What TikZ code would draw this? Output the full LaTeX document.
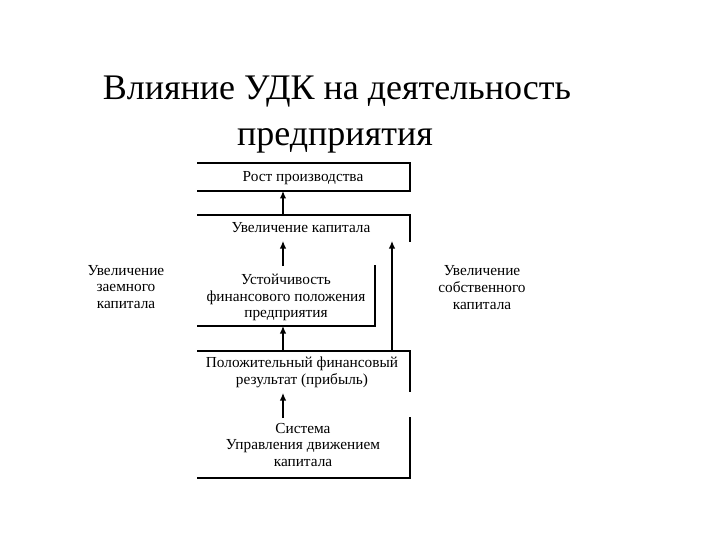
\documentclass[tikz,border=0pt]{standalone}
\usepackage{fontspec}
\setmainfont{Liberation Serif}
\usetikzlibrary{arrows.meta}

\begin{document}
\begin{tikzpicture}[x=1pt,y=-1pt,line width=1.2pt,
		arr/.style={-{Latex[length=7.5pt,width=6.5pt]}},
		txt/.style={font=\fontsize{15.3}{16.8}\selectfont,align=center,inner sep=0pt}]
	\useasboundingbox (0,0) rectangle (720,540);
	
	\coordinate (P1) at (197,163);
	\coordinate (Q1) at (410,163);
	\coordinate (R1) at (410,191);
	\coordinate (S1) at (197,191);
	\coordinate (B1) at (283,191);
	
	\coordinate (P2) at (197,215);
	\coordinate (Q2) at (410,215);
	\coordinate (R2) at (410,242);
	\coordinate (T2) at (283,215);
	\coordinate (B2) at (283,241);
	\coordinate (C2) at (392,241);
	
	\coordinate (Q3) at (375,265);
	\coordinate (R3) at (375,326);
	\coordinate (S3) at (197,326);
	\coordinate (T3) at (283,266);
	\coordinate (B3) at (283,326);
	
	\coordinate (P4) at (197,351);
	\coordinate (Q4) at (410,351);
	\coordinate (R4) at (410,392);
	\coordinate (T4) at (283,351);
	\coordinate (C4) at (392,351);
	\coordinate (B4) at (283,393);
	
	\coordinate (Q5) at (410,417);
	\coordinate (R5) at (410,478);
	\coordinate (S5) at (197,478);
	\coordinate (T5) at (283,418);
	
	\draw (P1) -- (Q1) -- (R1) -- (S1);
	\draw (P2) -- (Q2) -- (R2);
	\draw (Q3) -- (R3) -- (S3);
	\draw (P4) -- (Q4) -- (R4);
	\draw (Q5) -- (R5) -- (S5);
	
	\draw[arr] (T2) -- (B1);
	\draw[arr] (T3) -- (B2);
	\draw[arr] (T4) -- (B3);
	\draw[arr] (T5) -- (B4);
	\draw[arr] (C4) -- (C2);
	
	\node (title1) at (337,100) [anchor=base,font=\fontsize{36}{40}\selectfont] {Влияние УДК на деятельность};
	\node (title2) at (335,146) [anchor=base,font=\fontsize{36}{40}\selectfont] {предприятия};
	
	\node (rost) at (303,178) [txt] {Рост производства};
	\node (uvkap) at (301,228) [txt] {Увеличение капитала};
	\node (ust) at (286,297.5) [txt] {Устойчивость\\финансового положения\\предприятия};
	\node (res) at (302,372.5) [txt] {Положительный финансовый\\результат (прибыль)};
	\node (sist) at (303,445) [txt] {Система\\Управления движением\\капитала};
	\node (zaem) at (126,287) [txt] {Увеличение\\заемного\\капитала};
	\node (sobs) at (482,287.5) [txt] {Увеличение\\собственного\\капитала};
\end{tikzpicture}
\end{document}
